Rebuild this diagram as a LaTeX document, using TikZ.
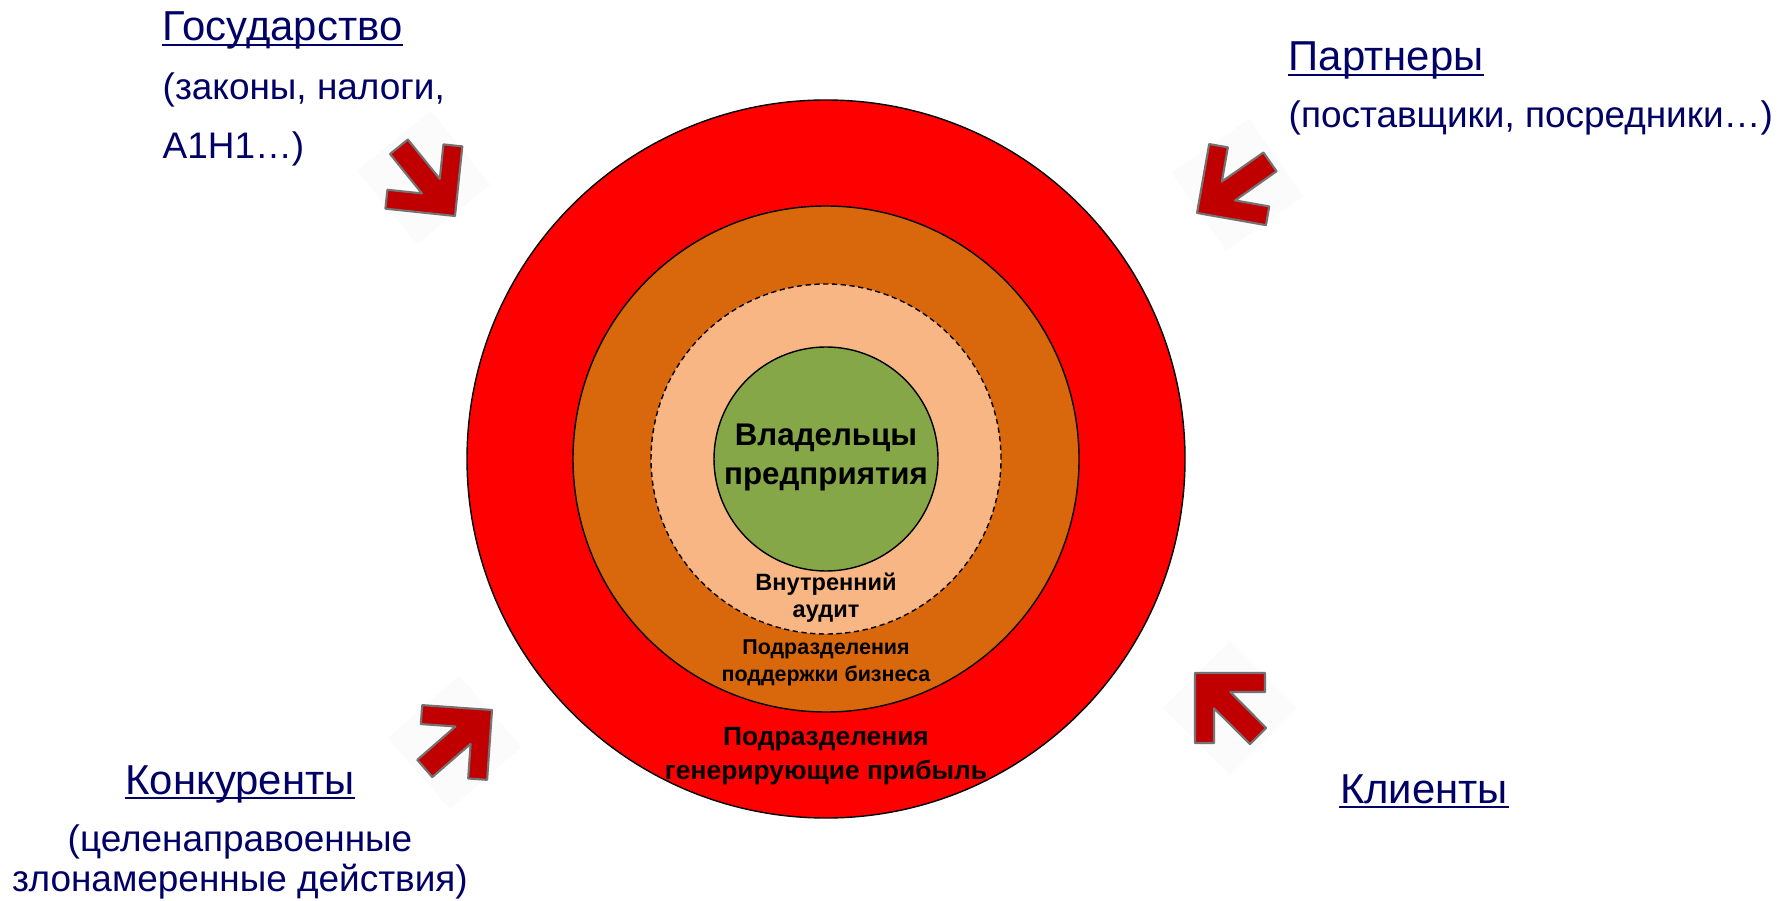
\documentclass[tikz,border=0pt]{standalone}
\usepackage{fontspec}
\setmainfont{Liberation Sans}
\usepackage{tikz,pgffor}
\usetikzlibrary{positioning}
\definecolor{navy}{RGB}{0,0,102}
\definecolor{arrowred}{RGB}{192,0,0}
\definecolor{ringred}{RGB}{255,0,0}
\definecolor{ringorange}{RGB}{217,104,12}
\definecolor{ringpeach}{RGB}{248,182,132}
\definecolor{ringgreen}{RGB}{134,167,72}
\tikzstyle{ring}=[draw=black, line width=0.4pt]
\tikzstyle{actor}=[font=\fontsize{11.9}{14}\selectfont, text=navy, inner sep=0pt]
\tikzstyle{actornote}=[font=\fontsize{10.5}{12}\selectfont, text=navy, inner sep=0pt]
\tikzstyle{unit}=[font=\bfseries\fontsize{6.7}{8}\selectfont, inner sep=0pt, anchor=base]
\tikzstyle{smallunit}=[font=\bfseries\fontsize{6.1}{7}\selectfont, inner sep=0pt, anchor=base]
\tikzstyle{midunit}=[font=\bfseries\fontsize{7.5}{9}\selectfont, inner sep=0pt, anchor=base]
\tikzstyle{bigunit}=[font=\bfseries\fontsize{8.9}{10}\selectfont, inner sep=0pt, anchor=base]
\tikzstyle{uline}=[draw=navy, line width=0.65pt]
\tikzstyle{arrowbody}=[fill=arrowred, draw=black!55, line width=0.6pt, line join=round]
\tikzstyle{arrowbg}=[fill=black!1.5]
% red block arrow, tip at (#1,#2), turned by #3
\newcommand{\pressarrow}[3]{%
  \begin{scope}[shift={(#1,#2)}, rotate=#3]
    \fill[arrowbg] (-102,-35) -- (-35,32) -- (32,-35) -- (-35,-102) -- cycle;
    \filldraw[arrowbody] (0,0) -- (-70,0) -- (-70,-19) -- (-35.3,-19) -- (-71.1,-54.9)
      -- (-54.9,-71.1) -- (-19,-35.3) -- (-19,-70) -- (0,-70) -- cycle;
  \end{scope}}

\begin{document}
\begin{tikzpicture}[x=0.01cm, y=0.01cm]
\useasboundingbox (0,0) rectangle (1792,900);

% rings
\filldraw[ring, fill=ringred]    (826,441) circle (359);
\filldraw[ring, fill=ringorange] (826,441) circle (253);
\filldraw[ring, fill=ringpeach, dash pattern=on 1.5pt off 1pt] (826,441) circle (175);
\filldraw[ring, fill=ringgreen]  (826,441) circle (112);

\node[bigunit] (owners1) at (826,454) {Владельцы};
\node[bigunit] (owners2) at (826,415) {предприятия};
\node[unit] (audit1) at (826,310) {Внутренний};
\node[unit] (audit2) at (826,282) {аудит};
\node[smallunit] (support1) at (826,246) {Подразделения};
\node[smallunit] (support2) at (826,219) {поддержки бизнеса};
\node[midunit] (profit1) at (826,155) {Подразделения};
\node[midunit] (profit2) at (826,121) {генерирующие прибыль};

% pressure from outside
\pressarrow{455}{684}{-96}
\pressarrow{1197}{687}{170}
\pressarrow{492}{190}{-4}
\pressarrow{1195}{227}{90}

\node[actor, anchor=base west] (state) at (162,859) {Государство};
\node[actornote, anchor=base west] (statenote1) at (162,800) {(законы, налоги,};
\node[actornote, anchor=base west] (statenote2) at (162,741) {A1H1…)};
\draw[uline] ([yshift=-1.2pt]state.base west) -- ([yshift=-1.2pt]state.base east);

\node[actor, anchor=base west] (partners) at (1288,829) {Партнеры};
\node[actornote, anchor=base west] (partnersnote) at (1288,772) {(поставщики, посредники…)};
\draw[uline] ([yshift=-1.2pt]partners.base west) -- ([yshift=-1.2pt]partners.base east);

\node[actor, anchor=base] (rivals) at (240,106) {Конкуренты};
\node[actornote, anchor=base] (rivalsnote1) at (240,49) {(целенаправоенные};
\node[actornote, anchor=base] (rivalsnote2) at (240,9) {злонамеренные действия)};
\draw[uline] ([yshift=-1.2pt]rivals.base west) -- ([yshift=-1.2pt]rivals.base east);

\node[actor, anchor=base] (clients) at (1424,97) {Клиенты};
\draw[uline] ([yshift=-1.2pt]clients.base west) -- ([yshift=-1.2pt]clients.base east);

\end{tikzpicture}
\end{document}
